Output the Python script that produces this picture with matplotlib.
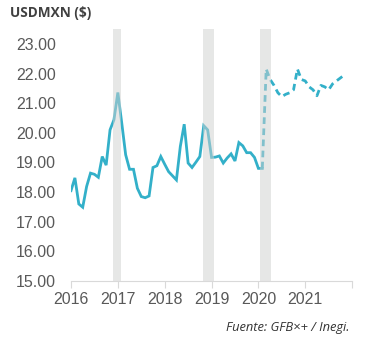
import numpy as np
import matplotlib
matplotlib.use("Agg")
import matplotlib.pyplot as plt

# monthly USDMXN, Jan 2016 - Feb 2020 (observed)
obs = [18.05, 18.48, 17.60, 17.49, 18.19, 18.64, 18.60, 18.50, 19.20, 18.91, 20.10, 20.44,
       21.36, 20.33, 19.26, 18.77, 18.77, 18.13, 17.85, 17.81, 17.87, 18.83, 18.89, 19.20,
       18.94, 18.69, 18.55, 18.41, 19.54, 20.29, 18.98, 18.83, 19.01, 19.20, 20.24, 20.10,
       19.17, 19.18, 19.22, 18.98, 19.15, 19.29, 19.05, 19.67, 19.56, 19.33, 19.33, 19.17,
       18.80, 18.80]
# forecast, Feb 2020 - Nov 2021
fcst = [18.80, 22.15, 21.80, 21.60, 21.35, 21.22, 21.30, 21.35, 21.45, 22.15, 21.80,
        21.75, 21.55, 21.45, 21.25, 21.60, 21.55, 21.45, 21.65, 21.75, 21.85, 21.95]
spans = [(2016.90, 2017.07), (2018.82, 2019.05), (2020.04, 2020.27)]
years = [2016, 2017, 2018, 2019, 2020, 2021, 2022]
yticks = [15, 16, 17, 18, 19, 20, 21, 22, 23]

x_obs = 2016 + np.arange(len(obs)) / 12
x_fc = 2016 + (len(obs) - 1 + np.arange(len(fcst))) / 12

teal = "#33b0c9"
fig = plt.figure(figsize=(3.66, 3.5), dpi=100)
ax = fig.add_axes([0.194, 0.197, 0.768, 0.72])

ax.plot(x_obs, obs, color=teal, lw=2.0, solid_joinstyle="miter", zorder=2)
ax.plot(x_fc, fcst, color=teal, lw=2.0, ls=(0, (2.4, 1.6)), zorder=2)
for a, b in spans:
    ax.axvspan(a, b, color="#cfd0cf", alpha=0.5, lw=0, zorder=3)

ax.set_xlim(2016, 2022)
ax.set_ylim(15, 23.5)
ax.set_xticks(years)
ax.set_xticklabels([str(y) for y in years[:-1]] + [""])
ax.set_yticks(yticks)
ax.set_yticklabels(["%.2f" % v for v in yticks])

for s in ["top", "right", "left"]:
    ax.spines[s].set_visible(False)
ax.spines["bottom"].set_color("#d9d9d9")
ax.tick_params(axis="x", colors="#d9d9d9", length=5, labelcolor="#595959",
               labelsize=11.5, pad=3)
ax.tick_params(axis="y", length=0, labelcolor="#595959", labelsize=11.5, pad=11)
for lab in ax.get_xticklabels() + ax.get_yticklabels():
    lab.set_family("Liberation Sans")

fig.text(0.028, 0.962, "USDMXN ($)", fontsize=9.8, fontweight="bold",
         family="Open Sans", color="#404040", va="center")
fig.text(0.955, 0.063, "Fuente: GFB×+ / Inegi.", fontsize=9.3, style="italic",
         family="Open Sans", color="#333333", ha="right", va="center")

fig.savefig("out.png", dpi=100)
